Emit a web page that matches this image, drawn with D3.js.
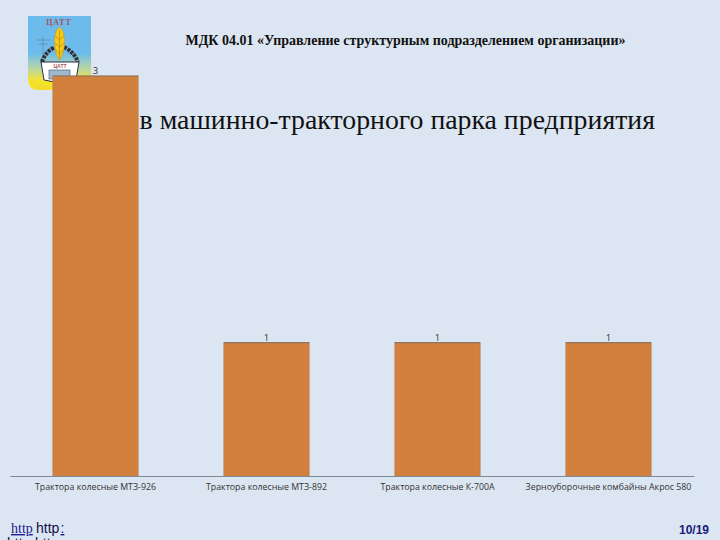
<!doctype html>
<html lang="ru">
  <head>
    <meta charset="utf-8">
    <title>Состав машинно-тракторного парка предприятия</title>
    <script src="https://d3js.org/d3.v7.min.js"></script>
    <style>
    html, body { margin: 0; padding: 0; background: #dce6f2; overflow: hidden; }
    svg { display: block; }
    .serif { font-family: "Liberation Serif", serif; }
    .sans { font-family: "Open Sans", "Noto Sans", sans-serif; }
    .arial { font-family: "Liberation Sans", sans-serif; }
    </style>
  </head>

  <body>
    <div id="chart">
      <svg width="720" height="540"></svg>
    </div>

    <script>
      var categories = [
        'Трактора колесные МТЗ-926',
        'Трактора колесные МТЗ-892',
        'Трактора колесные К-700А',
        'Зерноуборочные комбайны Акрос 580'
      ];
      var values = [3, 1, 1, 1];
      var header = 'МДК 04.01 «Управление структурным подразделением организации»';
      var title = 'в машинно-тракторного парка предприятия';

      var svg = d3.select('svg');

      // background
      svg.append('rect').attr('width', 720).attr('height', 540).attr('fill', '#dce6f2');

      // logo, roughly
      var grad = svg.append('defs').append('linearGradient')
        .attr('id', 'logoBg').attr('x1', 0).attr('y1', 0).attr('x2', 0).attr('y2', 1);
      grad.append('stop').attr('offset', '0.5').attr('stop-color', '#6cbbec');
      grad.append('stop').attr('offset', '0.72').attr('stop-color', '#bcd8a0');
      grad.append('stop').attr('offset', '0.88').attr('stop-color', '#f5e32a');

      var logo = svg.append('g').attr('transform', 'translate(28, 16)');
      logo.append('path')
        .attr('d', 'M0,0H63V74H10Q0,74 0,62Z')
        .attr('fill', 'url(#logoBg)');
      logo.append('text').attr('class', 'serif')
        .attr('x', 31).attr('y', 9)
        .attr('text-anchor', 'middle')
        .attr('font-size', 8).attr('font-weight', 700)
        .attr('letter-spacing', 0.9)
        .attr('fill', '#a8555a')
        .text('ЦАТТ');
      // power line mast
      logo.append('path')
        .attr('d', 'M15,21V42M9,24H22M11,28H20')
        .attr('stroke', '#5d8fb0').attr('stroke-width', 0.8).attr('fill', 'none');
      // gear arcs either side of the wheat
      logo.append('path')
        .attr('d', 'M14,46Q17,36 27,31M36,31Q46,36 50,46')
        .attr('stroke', '#333', 0).attr('stroke-width', 4)
        .attr('stroke', '#333')
        .attr('stroke-dasharray', '3 1')
        .attr('fill', 'none');
      // white shield
      logo.append('path')
        .attr('d', 'M13,46H51L48,64Q32,68 16,64Z')
        .attr('fill', '#ffffff').attr('stroke', '#2a2a4a').attr('stroke-width', 1);
      // wheat ear
      logo.append('path')
        .attr('d', 'M31.5,11Q37,15 36.5,28Q36,38 31.5,44Q27,38 26.5,28Q26,15 31.5,11Z')
        .attr('fill', '#f4cc1e').attr('stroke', '#c99a12').attr('stroke-width', 0.6);
      logo.append('path')
        .attr('d', 'M31.5,14V43M27,20L31.5,24L36,20M27,27L31.5,31L36,27M28,34L31.5,38L35,34')
        .attr('stroke', '#b8860b').attr('stroke-width', 0.7).attr('fill', 'none');
      // small picture in the shield
      logo.append('text').attr('class', 'arial')
        .attr('x', 32).attr('y', 52)
        .attr('text-anchor', 'middle')
        .attr('font-size', 5).attr('font-weight', 700)
        .attr('fill', '#a8555a')
        .text('ЦАТТ');
      logo.append('rect').attr('x', 21).attr('y', 54).attr('width', 21).attr('height', 9)
        .attr('fill', '#9db8cf').attr('stroke', '#40506a').attr('stroke-width', 0.6);
      logo.append('path')
        .attr('d', 'M3,63Q8,70 22,70L24,74H10Q3,72 2,62Z')
        .attr('fill', '#f2dc2c');

      svg.append('text').attr('class', 'serif')
        .attr('x', 405.5).attr('y', 45)
        .attr('text-anchor', 'middle')
        .attr('font-size', 14).attr('font-weight', 700)
        .attr('fill', '#111')
        .text(header);

      // title sits behind the first bar
      svg.append('text').attr('class', 'serif')
        .attr('x', 655).attr('y', 129)
        .attr('text-anchor', 'end')
        .attr('font-size', 27.8)
        .attr('fill', '#111')
        .text(title);

      var xScale = d3.scaleBand()
        .domain(categories)
        .range([10, 694])
        .padding(0);

      var yScale = d3.scaleLinear()
        .domain([0, 3])
        .range([476, 76]);

      var barWidth = xScale.bandwidth() * 0.5;

      var barX = function(d, i){
        return xScale(categories[i]) + xScale.bandwidth() / 2 - barWidth / 2;
      };

      svg.selectAll('.bar')
        .data(values)
        .enter().append('rect')
          .attr('class', 'bar')
          .attr('x', barX)
          .attr('y', function(d){ return yScale(d); })
          .attr('width', barWidth)
          .attr('height', function(d){ return yScale(0) - yScale(d); })
          .attr('fill', '#d2803c')
          .attr('stroke', '#a5795a')
          .attr('stroke-opacity', 0.5)
          .attr('stroke-width', 1);

      // darker top edge of the bars
      svg.selectAll('.barTop')
        .data(values)
        .enter().append('line')
          .attr('class', 'barTop')
          .attr('x1', barX)
          .attr('x2', function(d, i){ return barX(d, i) + barWidth; })
          .attr('y1', function(d){ return yScale(d); })
          .attr('y2', function(d){ return yScale(d); })
          .attr('stroke', '#8f7460')
          .attr('stroke-width', 1.2);

      svg.selectAll('.barLabel')
        .data(values)
        .enter().append('text')
          .attr('class', 'barLabel sans')
          .attr('x', function(d, i){ return xScale(categories[i]) + xScale.bandwidth() / 2; })
          .attr('y', function(d){ return yScale(d) - 2; })
          .attr('text-anchor', 'middle')
          .attr('font-size', 9.5)
          .attr('fill', '#333')
          .text(function(d){ return d; });

      var bottomAxis = d3.axisBottom(xScale).tickSize(0).tickPadding(8);
      var axisG = svg.append('g')
        .attr('transform', 'translate(0, 476)')
        .call(bottomAxis);
      axisG.select('.domain').attr('stroke', '#7f8a96').attr('stroke-width', 1.2);
      axisG.selectAll('text')
        .attr('font-size', 8.8)
        .attr('font-family', '"Open Sans", "Noto Sans", sans-serif')
        .attr('fill', '#333');

      // footer
      svg.append('text').attr('class', 'serif')
        .attr('x', 11).attr('y', 533)
        .attr('font-size', 14)
        .attr('fill', '#1a1a8c')
        .attr('text-decoration', 'underline')
        .text('http');
      svg.append('text').attr('class', 'arial')
        .attr('x', 36).attr('y', 533)
        .attr('font-size', 14)
        .attr('fill', '#10104a')
        .text('http');
      svg.append('text').attr('class', 'arial')
        .attr('x', 60.5).attr('y', 533)
        .attr('font-size', 14)
        .attr('fill', '#1a1a8c')
        .attr('text-decoration', 'underline')
        .text(':');
      // next line of the link is cut off by the bottom of the page
      svg.append('text').attr('class', 'arial')
        .attr('x', 7).attr('y', 548)
        .attr('font-size', 14)
        .attr('fill', '#10104a')
        .text('http');
      svg.append('text').attr('class', 'arial')
        .attr('x', 35).attr('y', 548)
        .attr('font-size', 14)
        .attr('fill', '#10104a')
        .text('http');

      svg.append('text').attr('class', 'arial')
        .attr('x', 709).attr('y', 534)
        .attr('text-anchor', 'end')
        .attr('font-size', 12).attr('font-weight', 700)
        .attr('fill', '#1a1a7c')
        .text('10/19');
    </script>
  </body>
</html>
